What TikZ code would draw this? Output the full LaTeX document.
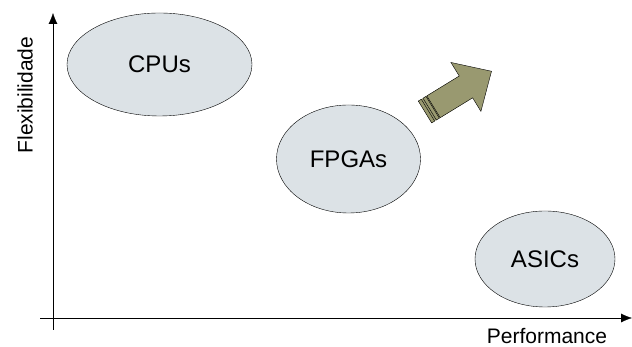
\documentclass[tikz,border=0pt]{standalone}
\usepackage{fontspec}
\setmainfont{Liberation Sans}
\usetikzlibrary{shapes.geometric,arrows.meta}
\definecolor{chipfill}{RGB}{220,226,230}
\definecolor{olive}{RGB}{153,153,112}

\begin{document}
\begin{tikzpicture}[x=1pt,y=1pt]
            \tikzset{
                chip/.style={ellipse,draw,fill=chipfill,inner sep=0pt,font=\fontsize{24}{28}\selectfont},
                axislabel/.style={inner sep=0pt,font=\fontsize{21}{25}\selectfont},}
            \useasboundingbox (0,0) rectangle (632,347);
            % axes
            \draw [-{Latex[length=11pt,width=9pt]}] (53,17) -- (53,334);
            \draw [-{Latex[length=11pt,width=9pt]}] (40,29) -- (632,29);
            \node [axislabel,rotate=90] (flex) at (25,252) {Flexibilidade};
            \node [axislabel,anchor=base] (perf) at (547,3) {Performance};
            % chips
            \node [chip,minimum width=185pt,minimum height=103pt] (cpu) at (159.5,282.5) {CPUs};
            \node [chip,minimum width=144pt,minimum height=108pt] (fpga) at (348.5,188) {FPGAs};
            \node [chip,minimum width=140pt,minimum height=96pt] (asic) at (545,88) {ASICs};
            % fat arrow
            \begin{scope}[shift={(425,235)},rotate=31.5]
                \fill [olive] (0,-12.8) rectangle (48,12.8);
                \draw [fill=olive] (10,-12.8) -- (48,-12.8) -- (48,-28.7) -- (78,0)
                    -- (48,28.7) -- (48,12.8) -- (10,12.8) -- cycle;
                \draw [fill=olive] (0,-12.8) rectangle (3.5,12.8);
                \draw [fill=olive] (5.5,-12.8) rectangle (9,12.8);
            \end{scope}
        \end{tikzpicture}
\end{document}
